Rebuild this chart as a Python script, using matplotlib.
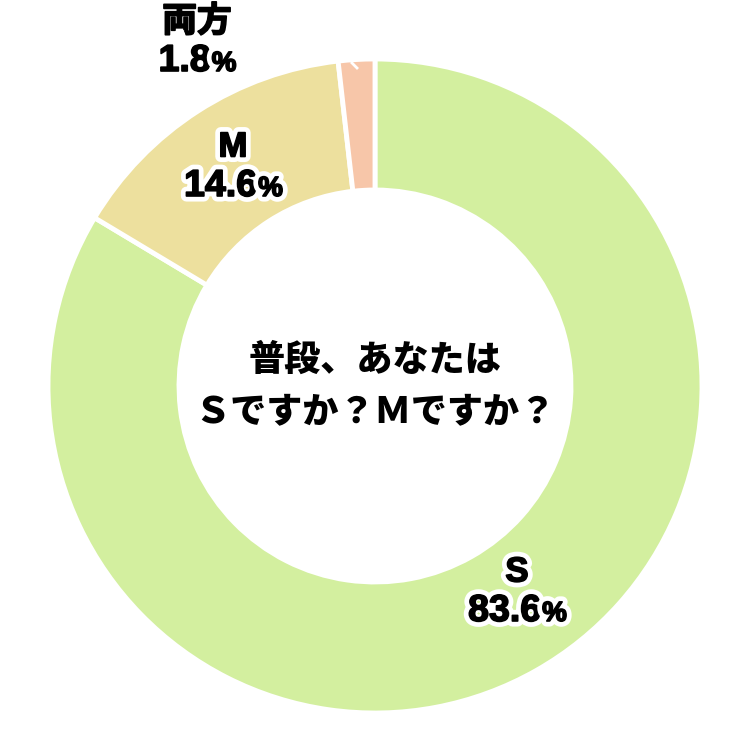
import matplotlib
matplotlib.use("Agg")
import matplotlib.pyplot as plt
import matplotlib.patheffects as pe

categories = ["S", "M", "両方"]
values = [83.6, 14.6, 1.8]
colors = ["#d3ef9f", "#ede09e", "#f7c6a9"]
title_lines = ["普段、あなたは", "Ｓですか？Ｍですか？"]

plt.rcParams['font.family'] = ['Liberation Sans', 'Noto Sans CJK JP', 'DejaVu Sans']

fig = plt.figure(figsize=(7.5, 7.32), dpi=100)
ax = fig.add_axes([0, 0, 1, 1])

R = 327
wedges, _ = ax.pie(values, colors=colors, startangle=90, counterclock=False,
                   radius=R, wedgeprops=dict(width=R - 196, edgecolor='white', linewidth=3.5))
ax.set_xlim(-375, 375)
ax.set_ylim(-(732 - 386), 386)
ax.set_aspect('equal')
ax.axis('off')

fam = ['Liberation Sans', 'Noto Sans CJK JP', 'DejaVu Sans']
stroke = [pe.withStroke(linewidth=8, foreground='white'),
          pe.withStroke(linewidth=1.2, foreground='black')]

# label centre positions (pixel offsets from pie centre, y up)
label_pos = [(142, -186), (-142, 239), (-178, 364)]
renderer = fig.canvas.get_renderer()
for (cat, v, (x, y)) in zip(categories, values, label_pos):
    ax.text(x, y, cat, ha='center', va='center', fontsize=25, fontweight='bold',
            family=fam, path_effects=stroke)
    base = y - 37 - 12
    tn = ax.text(0, base, f"{v:.1f}", ha='right', va='baseline', fontsize=27,
                 fontweight='bold', family=fam, path_effects=stroke)
    tp = ax.text(0, base, "%", ha='left', va='baseline', fontsize=20,
                 fontweight='bold', family=fam, path_effects=stroke)
    wn = tn.get_window_extent(renderer).width
    wp = tp.get_window_extent(renderer).width
    anchor = x + (wn - wp) / 2
    tn.set_x(anchor)
    tp.set_x(anchor + 1)

# small leader stub in the tiny slice
ax.plot([-23, -18], [323, 318], color='white', lw=2)

ax.text(0, 26, title_lines[0], ha='center', va='center', fontsize=26, fontweight='heavy',
        family=['Noto Sans CJK JP', 'DejaVu Sans'])
ax.text(0, -25, title_lines[1], ha='center', va='center', fontsize=26, fontweight='heavy',
        family=['Noto Sans CJK JP', 'DejaVu Sans'])

fig.savefig("out.png", dpi=100, facecolor='white')
